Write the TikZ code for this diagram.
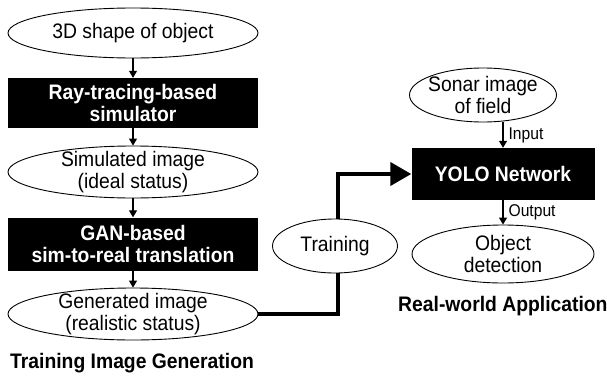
\documentclass[tikz,border=0pt]{standalone}
\usepackage{fontspec}
\setmainfont{Liberation Sans}[FakeStretch=0.92]
\usetikzlibrary{shapes.geometric}
\usetikzlibrary{arrows.meta}

\begin{document}
\begin{tikzpicture}[x=1pt,y=-1pt,
  ellip/.style={ellipse,draw,line width=0.9pt,fill=white,inner sep=0pt},
  etext/.style={align=center,font=\fontsize{21}{22}\selectfont,inner sep=0pt},
  blackbox/.style={rectangle,fill=black,text=white,align=center,font=\fontsize{21}{22}\selectfont\bfseries,minimum width=250pt,minimum height=50pt},
  arr/.style={-{Triangle[length=7pt,width=8pt]},line width=1.2pt},
  bigarr/.style={-{Triangle[length=21pt,width=23pt]},line width=4pt},
  lab/.style={font=\fontsize{17}{18}\selectfont,inner sep=0pt},
  title/.style={font=\fontsize{21}{22}\selectfont\bfseries,inner sep=0pt}]

\useasboundingbox (0,0) rectangle (607,375);

% training image generation
\node[ellip,minimum width=250pt,minimum height=50pt,label={[etext]center:3D shape of object}] (shape) at (133,33) {};
\node[blackbox] (ray) at (133,103) {Ray-tracing-based\\simulator};
\node[ellip,minimum width=250pt,minimum height=52pt,label={[etext]center:{Simulated image\\(ideal status)}}] (sim) at (133,172) {};
\node[blackbox,minimum height=53pt] (gan) at (133,244) {GAN-based\\sim-to-real translation};
\node[ellip,minimum width=250pt,minimum height=52pt,label={[etext]center:{Generated image\\(realistic status)}}] (gen) at (133,314) {};
\node[title,anchor=base west] (left title) at (10,368) {Training Image Generation};

\draw[arr] (shape) -- (ray);
\draw[arr] (ray) -- (sim);
\draw[arr] (sim) -- (gan);
\draw[arr] (gan) -- (gen);

% real-world application
\node[ellip,minimum width=147pt,minimum height=54pt,label={[etext]center:{Sonar image\\of field}}] (sonar) at (483,95) {};
\node[blackbox,minimum width=183pt,minimum height=52pt] (yolo) at (503,174) {YOLO Network};
\node[ellip,minimum width=182pt,minimum height=58pt,label={[etext]center:{Object\\detection}}] (obj) at (503,254) {};
\node[title,anchor=base west] (right title) at (398,311) {Real-world Application};

\draw[arr] (sonar.south -| yolo.north) -- (yolo.north) node[lab,midway,right=5pt] {Input};
\draw[arr] (yolo.south) -- (obj.north) node[lab,midway,right=5pt] {Output};

% training link
\coordinate (bend) at (338,314);
\draw[bigarr] (gen.east) -- (bend) |- (yolo.west);
\node[ellip,minimum width=125pt,minimum height=54pt,label={[etext]center:Training}] (train) at (335,246) {};

\end{tikzpicture}
\end{document}
